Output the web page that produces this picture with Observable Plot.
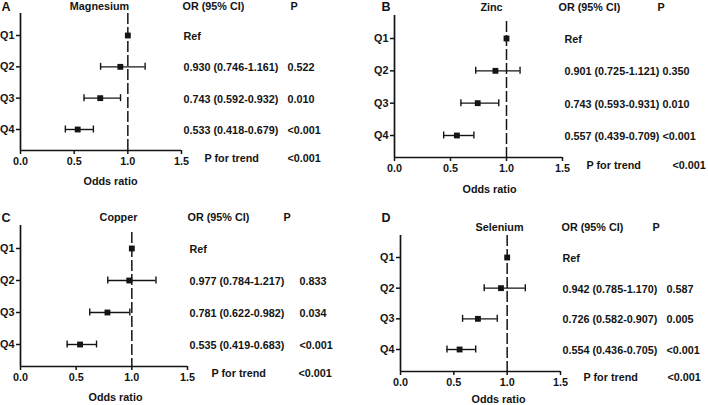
<!DOCTYPE html>
<html>
<head>
<meta charset="utf-8">
<script src="https://cdn.jsdelivr.net/npm/d3@7"></script>
<script src="https://cdn.jsdelivr.net/npm/@observablehq/plot@0.6"></script>
<style>
  html, body { margin: 0; padding: 0; background: #fff; }
  #chart { position: relative; width: 708px; height: 405px; overflow: hidden; background: #fff; }
  #chart > svg { position: absolute; overflow: visible; }
</style>
</head>
<body>
<div id="chart"></div>
<script>
// ---------------- data ----------------
const quartiles = ["Q1", "Q2", "Q3", "Q4"];
const panelLetters = ["A", "B", "C", "D"];
const elements = ["Magnesium", "Zinc", "Copper", "Selenium"];
const xTicks = [0, 0.5, 1.0, 1.5];
const xLabel = "Odds ratio";
const orHeader = "OR (95% CI)";
const pHeader = "P";
const trendLabel = "P for trend";
const refLabel = "Ref";

const orMagnesium = [1, 0.930, 0.743, 0.533];
const loMagnesium = [null, 0.746, 0.592, 0.418];
const hiMagnesium = [null, 1.161, 0.932, 0.679];
const pMagnesium = ["", "0.522", "0.010", "<0.001"];

const orZinc = [1, 0.901, 0.743, 0.557];
const loZinc = [null, 0.725, 0.593, 0.439];
const hiZinc = [null, 1.121, 0.931, 0.709];
const pZinc = ["", "0.350", "0.010", "<0.001"];

const orCopper = [1, 0.977, 0.781, 0.535];
const loCopper = [null, 0.784, 0.622, 0.419];
const hiCopper = [null, 1.217, 0.982, 0.683];
const pCopper = ["", "0.833", "0.034", "<0.001"];

const orSelenium = [1, 0.942, 0.726, 0.554];
const loSelenium = [null, 0.785, 0.582, 0.436];
const hiSelenium = [null, 1.170, 0.907, 0.705];
const pSelenium = ["", "0.587", "0.005", "<0.001"];

const pTrend = ["<0.001", "<0.001", "<0.001", "<0.001"];

const seriesOR = [orMagnesium, orZinc, orCopper, orSelenium];
const seriesLo = [loMagnesium, loZinc, loCopper, loSelenium];
const seriesHi = [hiMagnesium, hiZinc, hiCopper, hiSelenium];
const seriesP = [pMagnesium, pZinc, pCopper, pSelenium];

// ---------------- layout (pixels, per panel) ----------------
const layouts = [
  {left: 0,   top: 0,   h: 200, ml: 20, xr: 181, axTop: 13, base: 150, q1: 35, q4: 129, dashInset: 0,
   letter: [1, 6], title: [99, 6], orHead: [182, 6], pHead: [290, 6], orCol: 183, pCol: 287,
   trend: [204, 158], trendP: 287, xlab: [110, 181]},
  {left: 354, top: 0,   h: 200, ml: 40, xr: 208, axTop: 15, base: 157, q1: 38, q4: 135, dashInset: 6,
   letter: [27, 6], title: [137, 7], orHead: [204, 7], pHead: [303, 7], orCol: 210, pCol: 308,
   trend: [232, 165], trendP: 318, xlab: [135, 189]},
  {left: 0,   top: 200, h: 205, ml: 20, xr: 187, axTop: 25, base: 166, q1: 48, q4: 144, dashInset: 7,
   letter: [1, 17], title: [118, 17], orHead: [187, 17], pHead: [283, 17], orCol: 189, pCol: 299,
   trend: [211, 173], trendP: 298, xlab: [115, 197]},
  {left: 354, top: 200, h: 205, ml: 46, xr: 206, axTop: 35, base: 171, q1: 57, q4: 149, dashInset: 0,
   letter: [27, 17], title: [145, 27], orHead: [207, 27], pHead: [298, 27], orCol: 208, pCol: 312,
   trend: [229, 177], trendP: 313, xlab: [144, 199]}
];

const INK = "#141414";
const W = 354;
const FS = 10.8;
const chart = document.getElementById("chart");

panelLetters.forEach((letter, k) => {
  const L = layouts[k];
  const rows = quartiles.map((q, i) => ({
    q, i: i + 1,
    or: seriesOR[k][i], lo: seriesLo[k][i], hi: seriesHi[k][i], p: seriesP[k][i],
    label: seriesLo[k][i] == null ? refLabel
      : `${seriesOR[k][i].toFixed(3)} (${seriesLo[k][i].toFixed(3)}-${seriesHi[k][i].toFixed(3)})`
  }));
  const ci = rows.filter(d => d.lo != null);
  const step = (L.q4 - L.q1) / 3;
  const yBase = 4 + (L.base - L.q1 - 3 * step) / step;
  const cap = 3.5 / step;
  const at = (px, py) => ({frameAnchor: "top-left", lineAnchor: "middle", dx: px - L.ml, dy: py - L.axTop});

  const svg = Plot.plot({
    width: W,
    height: L.h,
    marginLeft: L.ml,
    marginRight: W - L.xr,
    marginTop: L.axTop,
    marginBottom: L.h - L.base,
    style: {fontFamily: "'Liberation Sans', Arial, sans-serif", fontSize: FS + "px", fontWeight: "bold", color: INK, background: "transparent", overflow: "visible"},
    x: {domain: [0, 1.5]},
    y: {domain: [1, 4], range: [L.q1, L.q4]},
    marks: [
      Plot.ruleX([1], {stroke: INK, strokeWidth: 1.5, strokeDasharray: "11,3", insetTop: L.dashInset}),
      Plot.ruleX([0], {stroke: INK, strokeWidth: 1.7}),
      Plot.ruleY([yBase], {stroke: INK, strokeWidth: 1.7}),
      Plot.axisX({ticks: xTicks, tickFormat: d3.format(".1f"), tickSize: 4, tickPadding: 3, label: null, stroke: INK, strokeWidth: 1.5, fill: INK}),
      Plot.axisY({ticks: [1, 2, 3, 4], tickFormat: i => quartiles[i - 1], tickSize: 4, tickPadding: 2, label: null, stroke: INK, strokeWidth: 1.5, fill: INK}),
      Plot.ruleY(ci, {y: "i", x1: "lo", x2: "hi", stroke: INK, strokeWidth: 1.4}),
      Plot.ruleX(ci, {x: "lo", y1: d => d.i - cap, y2: d => d.i + cap, stroke: INK, strokeWidth: 1.4}),
      Plot.ruleX(ci, {x: "hi", y1: d => d.i - cap, y2: d => d.i + cap, stroke: INK, strokeWidth: 1.4}),
      Plot.dot(rows, {x: "or", y: "i", symbol: "square", r: 3.3, fill: INK, stroke: null}),
      // table columns
      Plot.text(rows, {y: "i", text: "label", frameAnchor: "right", lineAnchor: "middle", dx: L.orCol - L.xr, dy: 1, textAnchor: "start", fill: INK}),
      Plot.text(rows, {y: "i", text: "p", frameAnchor: "right", lineAnchor: "middle", dx: L.pCol - L.xr, dy: 1, textAnchor: "start", fill: INK}),
      // headers, titles, labels
      Plot.text([letter], {text: d => d, ...at(...L.letter), textAnchor: "start", fontSize: 12.5, fill: INK}),
      Plot.text([elements[k]], {text: d => d, ...at(...L.title), textAnchor: "middle", fill: INK}),
      Plot.text([orHeader], {text: d => d, ...at(...L.orHead), textAnchor: "start", fill: INK}),
      Plot.text([pHeader], {text: d => d, ...at(...L.pHead), textAnchor: "start", fill: INK}),
      Plot.text([trendLabel], {text: d => d, ...at(...L.trend), textAnchor: "start", fill: INK}),
      Plot.text([pTrend[k]], {text: d => d, ...at(L.trendP, L.trend[1]), textAnchor: "start", fill: INK}),
      Plot.text([xLabel], {text: d => d, ...at(...L.xlab), textAnchor: "middle", fill: INK})
    ]
  });
  svg.style.left = L.left + "px";
  svg.style.top = L.top + "px";
  chart.appendChild(svg);
});
</script>
</body>
</html>
